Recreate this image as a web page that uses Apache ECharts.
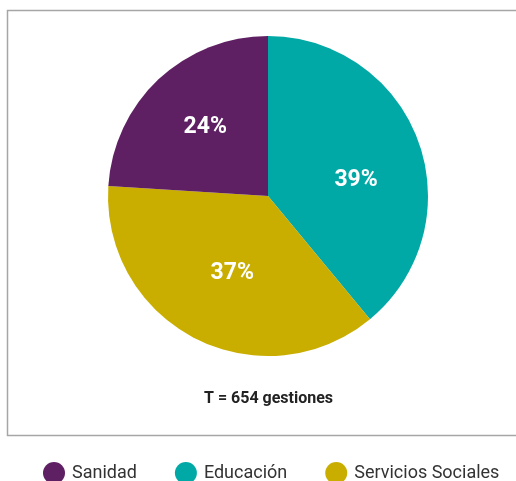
<!DOCTYPE html>
<html>
<head>
<meta charset="utf-8">
<script src="https://cdn.jsdelivr.net/npm/echarts@6/dist/echarts.min.js"></script>
<style>
html,body{margin:0;padding:0;background:#fff;}
#chart{width:516px;height:481px;}
</style>
</head>
<body>
<div id="chart"></div>
<script>
// Data (clockwise from 12 o'clock)
const categories = ['Educación', 'Servicios Sociales', 'Sanidad'];
const values = [39, 37, 24];
const legendOrder = ['Sanidad', 'Educación', 'Servicios Sociales'];
const totalLabel = 'T = 654 gestiones';

// Styles
const colors = { 'Educación': '#00A9A6', 'Servicios Sociales': '#C9AE00', 'Sanidad': '#5E2062' };
const labelOffsets = { 'Educación': [10, 12], 'Servicios Sociales': [2, 3], 'Sanidad': [-6, -8] };
const FONT = "Roboto, sans-serif";

const chart = echarts.init(document.getElementById('chart'), null, { renderer: 'canvas' });
chart.setOption({
  animation: false,
  backgroundColor: '#ffffff',
  title: {
    text: totalLabel,
    left: 199,
    top: 386,
    textStyle: { fontFamily: FONT, fontSize: 16, fontWeight: 'bold', color: '#222' }
  },
  graphic: [{
    type: 'rect',
    shape: { x: 7.5, y: 10.5, width: 520, height: 425 },
    style: { fill: 'none', stroke: '#a6a6a6', lineWidth: 1.5 },
    silent: true
  }],
  legend: {
    data: legendOrder,
    left: 38,
    top: 457,
    icon: 'circle',
    itemWidth: 22,
    itemHeight: 22,
    itemGap: 38,
    textStyle: { fontFamily: FONT, fontSize: 18, color: '#333', padding: [6, 0, 0, 2] }
  },
  series: [{
    type: 'pie',
    center: [268, 196],
    radius: [0, 160],
    startAngle: 90,
    clockwise: true,
    avoidLabelOverlap: false,
    label: {
      show: true,
      position: 'inside',
      formatter: '{c}%',
      fontFamily: FONT,
      fontSize: 23,
      fontWeight: 'bold',
      color: '#ffffff'
    },
    labelLine: { show: false },
    emphasis: { disabled: true },
    data: categories.map((c, i) => ({
      name: c,
      value: values[i],
      itemStyle: { color: colors[c] },
      label: { offset: labelOffsets[c] }
    }))
  }]
});
</script>
</body>
</html>
